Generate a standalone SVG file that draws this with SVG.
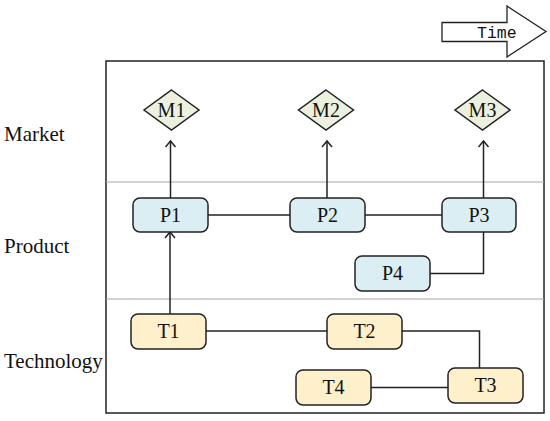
<svg xmlns="http://www.w3.org/2000/svg" width="550" height="421" viewBox="0 0 550 421">
<style>
text{font-family:'Liberation Serif','Times New Roman','DejaVu Serif',serif;font-size:20px;fill:#111}
.lbl{font-size:21px}
.nt{text-anchor:middle}
.p{fill:#dbeef4;stroke:#222;stroke-width:1.5}
.t{fill:#fdf0cb;stroke:#222;stroke-width:1.5}
.m{fill:#ebf1de;stroke:#222;stroke-width:1.5}
.c{fill:none;stroke:#222;stroke-width:1.5}
.div{stroke:#a6a6a6;stroke-width:1}
.mono{font-family:'Liberation Mono','Courier New',monospace;font-size:16.5px}
</style>
<defs>
<marker id="ah" markerWidth="12" markerHeight="12" refX="10" refY="6" orient="auto" markerUnits="userSpaceOnUse">
<path d="M4,1 L10,6 L4,11" fill="none" stroke="#222" stroke-width="1.5"/>
</marker>
</defs>
<rect width="550" height="421" fill="#fff"/>
<g id="time-arrow">
<path d="M442,22.5 H507 V6 L546,31.5 L507,57 V41.5 H442 Z" fill="#fff" stroke="#222" stroke-width="1.3"/>
<text class="mono" x="477" y="37.5">Time</text>
</g>
<g id="frame">
<rect x="106" y="61" width="438" height="352" fill="none" stroke="#222" stroke-width="1.5"/>
<line class="div" x1="106" y1="182" x2="544" y2="182"/>
<line class="div" x1="106" y1="299" x2="544" y2="299"/>
</g>
<g id="lane-labels">
<text class="lbl" x="4" y="140.5">Market</text>
<text class="lbl" x="4" y="253">Product</text>
<text class="lbl" x="4" y="367.5">Technology</text>
</g>
<g id="connectors">
<line class="c" x1="170.5" y1="198" x2="170.5" y2="141" marker-end="url(#ah)"/>
<line class="c" x1="327" y1="198" x2="327" y2="141" marker-end="url(#ah)"/>
<line class="c" x1="483.5" y1="198" x2="483.5" y2="141" marker-end="url(#ah)"/>
<line class="c" x1="170" y1="314" x2="170" y2="232" marker-end="url(#ah)"/>
<line class="c" x1="208" y1="215" x2="290" y2="215"/>
<line class="c" x1="365" y1="215" x2="442" y2="215"/>
<polyline class="c" points="430,273.5 483.5,273.5 483.5,232"/>
<line class="c" x1="206" y1="331" x2="327" y2="331"/>
<polyline class="c" points="402,331 479.5,331 479.5,368"/>
<line class="c" x1="371" y1="387.5" x2="448" y2="387.5"/>
</g>
<g id="M1"><path class="m" d="M171.5,90 L199,110 L171.5,130 L144,110 Z"/><text class="nt" x="171.5" y="117">M1</text></g>
<g id="M2"><path class="m" d="M326,90 L353.5,110 L326,130 L298.5,110 Z"/><text class="nt" x="326" y="117">M2</text></g>
<g id="M3"><path class="m" d="M482.5,90 L510,110 L482.5,130 L455,110 Z"/><text class="nt" x="482.5" y="117">M3</text></g>
<g id="P1"><rect class="p" x="133" y="198" width="75" height="34" rx="7"/><text class="nt" x="170.5" y="222">P1</text></g>
<g id="P2"><rect class="p" x="290" y="198" width="75" height="34" rx="7"/><text class="nt" x="327.5" y="222">P2</text></g>
<g id="P3"><rect class="p" x="442" y="198" width="74" height="34" rx="7"/><text class="nt" x="479" y="222">P3</text></g>
<g id="P4"><rect class="p" x="355" y="256" width="75" height="35" rx="7"/><text class="nt" x="392.5" y="280">P4</text></g>
<g id="T1"><rect class="t" x="131" y="314" width="75" height="35" rx="7"/><text class="nt" x="168.5" y="338">T1</text></g>
<g id="T2"><rect class="t" x="327" y="314" width="75" height="35" rx="7"/><text class="nt" x="364.5" y="338">T2</text></g>
<g id="T3"><rect class="t" x="448" y="368" width="75" height="35" rx="7"/><text class="nt" x="485.5" y="392">T3</text></g>
<g id="T4"><rect class="t" x="296" y="370" width="75" height="35" rx="7"/><text class="nt" x="333.5" y="394">T4</text></g>
</svg>
